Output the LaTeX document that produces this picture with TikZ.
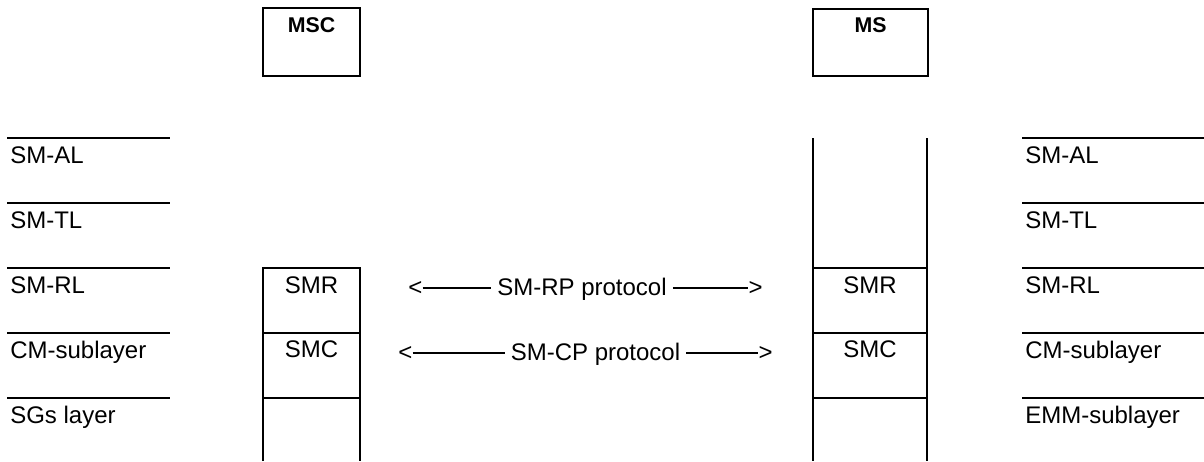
\documentclass[tikz,border=0pt]{standalone}
\usepackage{fontspec}
\setmainfont{Liberation Sans}
\usepackage{tikz}
\usetikzlibrary{positioning}

\begin{document}
\begin{tikzpicture}[x=0.75pt, y=-0.75pt]
	\tikzset{
		layertxt/.style={font=\fontsize{18}{20}\selectfont, inner sep=0pt, anchor=base west},
		boxtxt/.style={font=\fontsize{18}{20}\selectfont, inner sep=0pt, anchor=base},
		entitytxt/.style={font=\fontsize{16}{18}\selectfont\bfseries, inner sep=0pt, anchor=base},
		prototxt/.style={font=\fontsize{18}{20}\selectfont, inner ysep=0pt, inner xsep=4.5pt, anchor=base},
		rule/.style={line width=1.5pt},
		protoline/.style={line width=1pt},
	}
	\useasboundingbox (0,0) rectangle (1204,461);
	
	% Entity boxes
	\draw[rule] (263,8) rectangle (360,76);
	\node[entitytxt] (msc) at (311.5,32) {MSC};
	\draw[rule] (813,9) rectangle (928,76);
	\node[entitytxt] (ms) at (870.5,32) {MS};
	
	% Layer lines and names (left side and right side)
	\foreach \y/\ltxt/\rtxt in {138/SM-AL/SM-AL, 203/SM-TL/SM-TL, 268/SM-RL/SM-RL, 333/CM-sublayer/CM-sublayer, 398/SGs layer/EMM-sublayer} {
		\draw[rule] (7,\y) -- (170,\y);
		\node[layertxt] (l\y) at (10,\y+25) {\ltxt};
		\draw[rule] (1022,\y) -- (1204,\y);
		\node[layertxt] (r\y) at (1025,\y+25) {\rtxt};
	}
	
	% MSC protocol stack
	\draw[rule] (263,461) -- (263,268) -- (360,268) -- (360,461);
	\draw[rule] (263,333) -- (360,333);
	\draw[rule] (263,398) -- (360,398);
	\node[boxtxt] (smrl) at (311.5,293) {SMR};
	\node[boxtxt] (smcl) at (311.5,357) {SMC};
	
	% MS protocol stack
	\draw[rule] (813,138) -- (813,461);
	\draw[rule] (927,138) -- (927,461);
	\foreach \y in {268,333,398} {
		\draw[rule] (813,\y) -- (927,\y);
	}
	\node[boxtxt] (smrr) at (870,293) {SMR};
	\node[boxtxt] (smcr) at (870,357) {SMC};
	
	% Peer protocols
	\node[prototxt] (rp) at (582,295) {SM-RP protocol};
	\node[boxtxt, anchor=base west] (rplt) at (408,295) {<};
	\node[boxtxt, anchor=base east] (rpgt) at (763,295) {>};
	\draw[protoline] (rplt.east) -- (rplt.east -| rp.west);
	\draw[protoline] (rp.east |- rpgt.west) -- (rpgt.west);
	
	\node[prototxt] (cp) at (595.5,360) {SM-CP protocol};
	\node[boxtxt, anchor=base west] (cplt) at (398,360) {<};
	\node[boxtxt, anchor=base east] (cpgt) at (773,360) {>};
	\draw[protoline] (cplt.east) -- (cplt.east -| cp.west);
	\draw[protoline] (cp.east |- cpgt.west) -- (cpgt.west);
\end{tikzpicture}
\end{document}
